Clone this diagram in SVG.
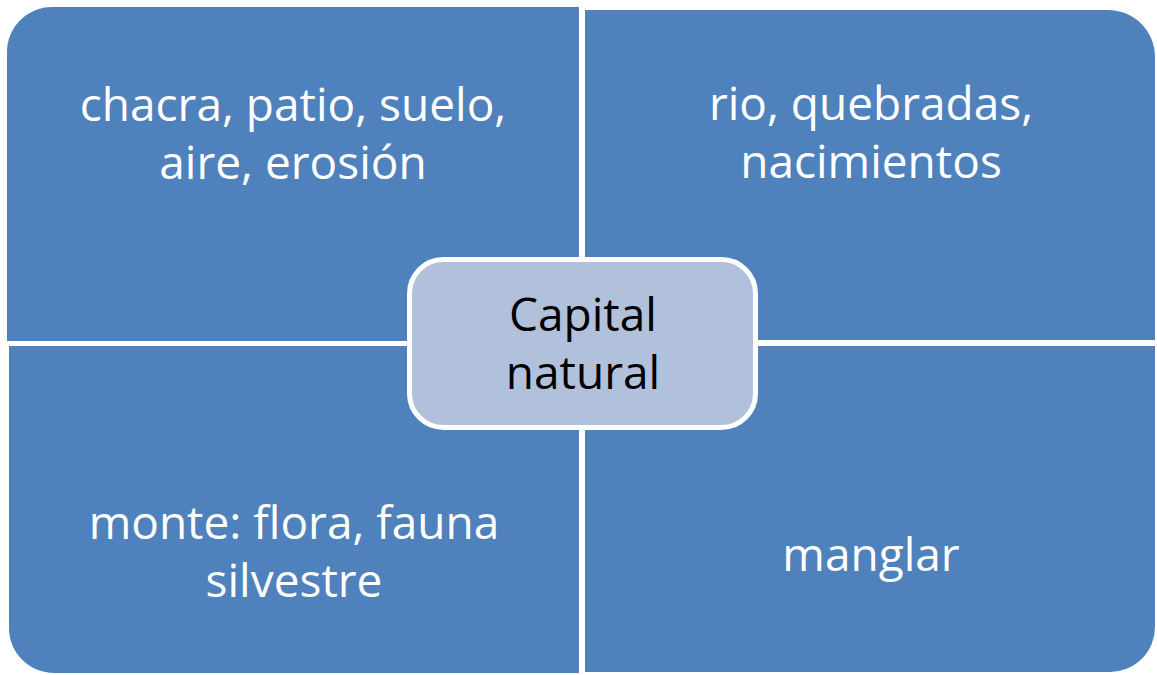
<svg xmlns="http://www.w3.org/2000/svg" width="1157" height="675" viewBox="0 0 1157 675">
<style>
.q{fill:#4F81BD;}
.t{font-family:"Open Sans","Liberation Sans",sans-serif;font-size:46px;text-anchor:middle;}
.w{fill:#FFFFFF;}
.k{fill:#000000;}
.c{fill:#B1C1DC;stroke:#FFFFFF;stroke-width:5;}
</style>
<rect width="1157" height="675" fill="#FFFFFF"/>
<g id="connectors"></g>
<g id="q-top-left">
<path class="q" d="M7,52 A45,45 0 0 1 52,7 L579,7 L579,341 L7,341 Z"/>
<text class="t w" x="293" y="121">chacra, patio, suelo,</text>
<text class="t w" x="293" y="179">aire, erosión</text>
</g>
<g id="q-top-right">
<path class="q" d="M585,10 L1108,10 A47,47 0 0 1 1155,57 L1155,340 L585,340 Z"/>
<text class="t w" x="871" y="120">rio, quebradas,</text>
<text class="t w" x="871" y="178">nacimientos</text>
</g>
<g id="q-bottom-left">
<path class="q" d="M9,346 L579,346 L579,673 L54,673 A45,45 0 0 1 9,628 Z"/>
<text class="t w" x="294" y="539">monte: flora, fauna</text>
<text class="t w" x="294" y="597">silvestre</text>
</g>
<g id="q-bottom-right">
<path class="q" d="M585,346 L1155,346 L1155,627 A45,45 0 0 1 1110,672 L585,672 Z"/>
<text class="t w" x="871" y="571">manglar</text>
</g>
<g id="center">
<rect class="c" x="409.5" y="259.5" width="346" height="168" rx="34" ry="34"/>
<text class="t k" x="583" y="331">Capital</text>
<text class="t k" x="583" y="389">natural</text>
</g>
</svg>
